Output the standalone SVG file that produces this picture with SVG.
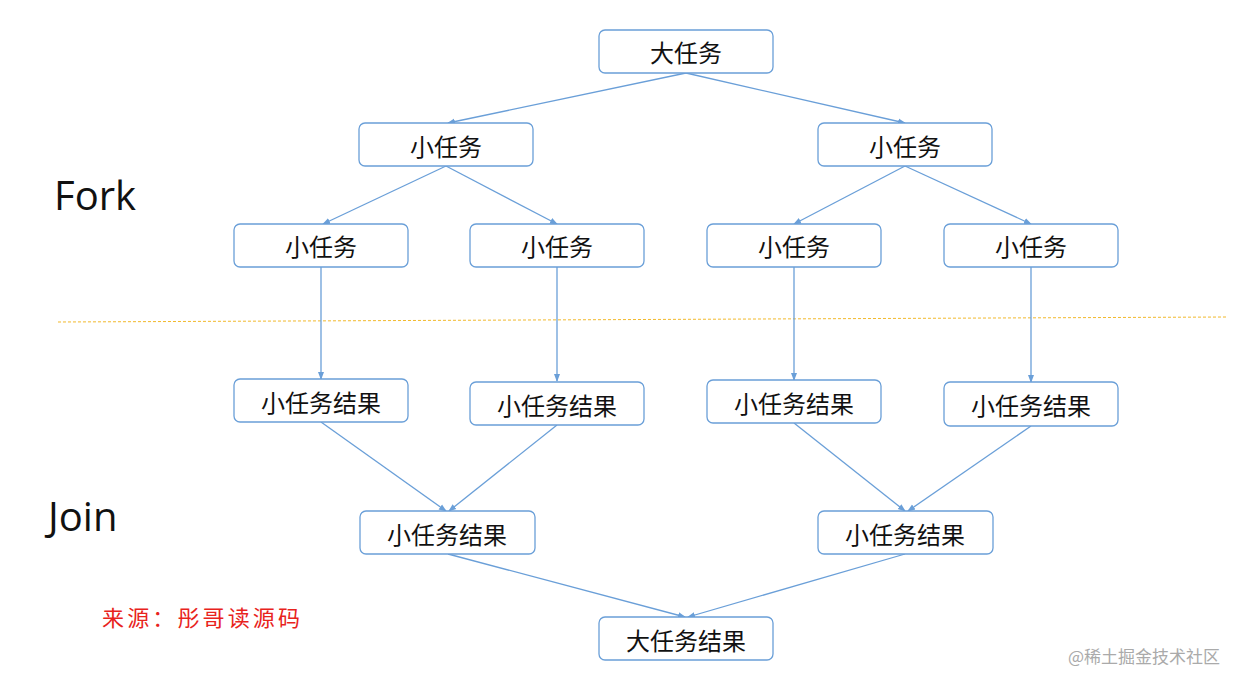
<svg xmlns="http://www.w3.org/2000/svg" width="1239" height="687" viewBox="0 0 1239 687">
<style>
.b{fill:#fff;stroke:#6a9fd8;stroke-width:1.3}
.t{font-family:"Noto Sans CJK SC",sans-serif;font-size:24px;fill:#111;text-anchor:middle;dominant-baseline:central}
.c line{stroke:#6a9fd8;stroke-width:1.3;marker-end:url(#a)}
.lbl{font-family:"Open Sans","Liberation Sans",sans-serif;font-size:40px;fill:#111}
</style>
<defs><marker id="a" markerWidth="8" markerHeight="8" refX="7" refY="4" orient="auto" markerUnits="userSpaceOnUse"><path d="M0,1 L8,4 L0,7z" fill="#6a9fd8"/></marker></defs>
<rect width="1239" height="687" fill="#fff"/>
<line x1="58" y1="322" x2="1228" y2="317" stroke="#f2b92c" stroke-width="1" stroke-dasharray="3,2"/>
<g class="c">
<line x1="686" y1="73" x2="448" y2="123"/>
<line x1="686" y1="73" x2="905" y2="123"/>
<line x1="446" y1="166" x2="323" y2="224"/>
<line x1="446" y1="166" x2="557" y2="224"/>
<line x1="905" y1="166" x2="794" y2="224"/>
<line x1="905" y1="166" x2="1031" y2="224"/>
<line x1="321" y1="267" x2="321" y2="379"/>
<line x1="557" y1="267" x2="557" y2="381"/>
<line x1="794" y1="267" x2="794" y2="380"/>
<line x1="1031" y1="267" x2="1031" y2="382"/>
<line x1="321" y1="422" x2="446" y2="511"/>
<line x1="557" y1="425" x2="449" y2="511"/>
<line x1="794" y1="423" x2="905" y2="511"/>
<line x1="1031" y1="426" x2="908" y2="511"/>
<line x1="448" y1="554" x2="685" y2="617"/>
<line x1="905" y1="554" x2="688" y2="617"/>
</g>
<g id="n1"><rect class="b" x="599" y="30" width="174" height="43" rx="6"/><text class="t" x="686" y="51">大任务</text></g>
<g id="n2"><rect class="b" x="359" y="123" width="174" height="43" rx="6"/><text class="t" x="446" y="145">小任务</text></g>
<g id="n3"><rect class="b" x="818" y="123" width="174" height="43" rx="6"/><text class="t" x="905" y="145">小任务</text></g>
<g id="n4"><rect class="b" x="234" y="224" width="174" height="43" rx="6"/><text class="t" x="321" y="245">小任务</text></g>
<g id="n5"><rect class="b" x="470" y="224" width="174" height="43" rx="6"/><text class="t" x="557" y="245">小任务</text></g>
<g id="n6"><rect class="b" x="707" y="224" width="174" height="43" rx="6"/><text class="t" x="794" y="245">小任务</text></g>
<g id="n7"><rect class="b" x="944" y="224" width="174" height="43" rx="6"/><text class="t" x="1031" y="245">小任务</text></g>
<g id="n8"><rect class="b" x="234" y="379" width="174" height="43" rx="6"/><text class="t" x="321" y="401">小任务结果</text></g>
<g id="n9"><rect class="b" x="470" y="382" width="174" height="43" rx="6"/><text class="t" x="557" y="404">小任务结果</text></g>
<g id="n10"><rect class="b" x="707" y="380" width="174" height="43" rx="6"/><text class="t" x="794" y="402">小任务结果</text></g>
<g id="n11"><rect class="b" x="944" y="382" width="174" height="44" rx="6"/><text class="t" x="1031" y="404">小任务结果</text></g>
<g id="n12"><rect class="b" x="360" y="511" width="175" height="43" rx="6"/><text class="t" x="447" y="533">小任务结果</text></g>
<g id="n13"><rect class="b" x="818" y="511" width="175" height="43" rx="6"/><text class="t" x="905" y="533">小任务结果</text></g>
<g id="n14"><rect class="b" x="599" y="617" width="174" height="43" rx="6"/><text class="t" x="686" y="639">大任务结果</text></g>
<text class="lbl" x="54" y="210">Fork</text>
<text class="lbl" x="48" y="531">Join</text>
<text x="102" y="626" textLength="198" lengthAdjust="spacing" font-family="'Noto Sans CJK SC',sans-serif" font-size="22" fill="#e8231c">来源：彤哥读源码</text>
<text x="1220" y="663" text-anchor="end" font-family="'Noto Sans CJK SC',sans-serif" font-size="17" fill="#aaa">@稀土掘金技术社区</text>
</svg>
